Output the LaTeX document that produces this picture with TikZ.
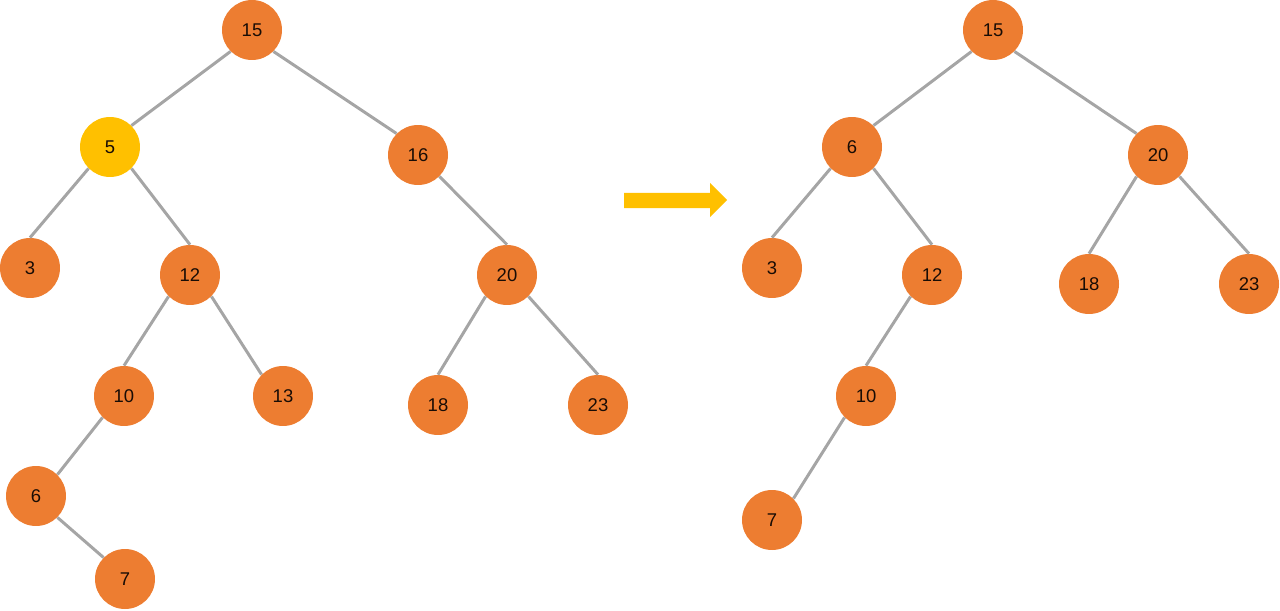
\documentclass[tikz,border=0pt]{standalone}
\usepackage{fontspec}
\setmainfont{Liberation Sans}
\usepackage{tikz}
\usetikzlibrary{arrows.meta}
\definecolor{nodeorange}{HTML}{ED7D31}
\definecolor{nodeyellow}{HTML}{FFC000}
\definecolor{edgegray}{HTML}{A5A5A5}
\tikzset{
  bstnode/.style={circle,fill=nodeorange,minimum size=1.2cm,inner sep=0pt,
    font=\fontsize{10.5}{12}\selectfont,text=black!90!nodeorange},
  delnode/.style={bstnode,fill=nodeyellow},
  bstedge/.style={draw=edgegray,line width=1.7pt}
}

\begin{document}
\begin{tikzpicture}[x=0.02cm,y=-0.02cm]
  \useasboundingbox (0,0) rectangle (1280,611);
  % before: delete 5
  \node[bstnode] (a15) at (252,30) {15};
  \node[delnode] (a5) at (110,147) {5};
  \node[bstnode] (a16) at (418,155) {16};
  \node[bstnode] (a3) at (30,268) {3};
  \node[bstnode] (a12) at (190,275) {12};
  \node[bstnode] (a20) at (507,275) {20};
  \node[bstnode] (a10) at (124,396) {10};
  \node[bstnode] (a13) at (283,396) {13};
  \node[bstnode] (a18) at (438,405) {18};
  \node[bstnode] (a23) at (598,405) {23};
  \node[bstnode] (a6) at (36,496) {6};
  \node[bstnode] (a7) at (125,579) {7};
  \draw[bstedge] (a15.south west)--(a5.north east);
  \draw[bstedge] (a15.south east)--(a16.north west);
  \draw[bstedge] (a5.south west)--(a3.north);
  \draw[bstedge] (a5.south east)--(a12.north);
  \draw[bstedge] (a16.south east)--(a20.north);
  \draw[bstedge] (a12.south west)--(a10.north);
  \draw[bstedge] (a12.south east)--(a13.north west);
  \draw[bstedge] (a20.south west)--(a18.north);
  \draw[bstedge] (a20.south east)--(a23.north);
  \draw[bstedge] (a10.south west)--(a6.north east);
  \draw[bstedge] (a6.south east)--(a7.north west);
  % arrow
  \fill[nodeyellow] (624,193)--(710,193)--(710,183)--(727,200)--(710,217)--(710,208)--(624,208)--cycle;
  % after
  \node[bstnode] (b15) at (993,30) {15};
  \node[bstnode] (b6) at (852,147) {6};
  \node[bstnode] (b20) at (1158,155) {20};
  \node[bstnode] (b3) at (772,268) {3};
  \node[bstnode] (b12) at (932,275) {12};
  \node[bstnode] (b18) at (1089,284) {18};
  \node[bstnode] (b23) at (1249,284) {23};
  \node[bstnode] (b10) at (866,396) {10};
  \node[bstnode] (b7) at (772,520) {7};
  \draw[bstedge] (b15.south west)--(b6.north east);
  \draw[bstedge] (b15.south east)--(b20.north west);
  \draw[bstedge] (b6.south west)--(b3.north);
  \draw[bstedge] (b6.south east)--(b12.north);
  \draw[bstedge] (b20.south west)--(b18.north);
  \draw[bstedge] (b20.south east)--(b23.north);
  \draw[bstedge] (b12.south west)--(b10.north);
  \draw[bstedge] (b10.south west)--(b7.north east);
\end{tikzpicture}
\end{document}
